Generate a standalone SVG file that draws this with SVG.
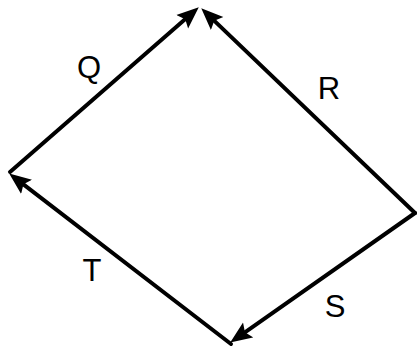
<svg xmlns="http://www.w3.org/2000/svg" width="417" height="349" viewBox="0 0 417 349">
<style>
.edge{stroke:#000;stroke-width:4;fill:none;stroke-linecap:round;marker-end:url(#ah)}
.lbl{font-family:"Liberation Sans",Arial,sans-serif;font-size:31px;fill:#000;text-anchor:middle}
</style>
<defs>
<marker id="ah" markerUnits="userSpaceOnUse" markerWidth="24" markerHeight="20" refX="11" refY="10" orient="auto">
<path d="M0,1 L22,10 L0,19 L4,10 z" fill="#000"/>
</marker>
</defs>
<g id="connectors">
<line id="Q" class="edge" x1="10" y1="172" x2="190.5" y2="14.6"/>
<line id="R" class="edge" x1="415" y1="213" x2="209.2" y2="15.9"/>
<line id="S" class="edge" x1="415" y1="213" x2="239.2" y2="336.3"/>
<line id="T" class="edge" x1="231" y1="344" x2="17.9" y2="180.1"/>
</g>
<g id="label-Q"><text class="lbl" x="89" y="78">Q</text></g>
<g id="label-R"><text class="lbl" x="329" y="99">R</text></g>
<g id="label-T"><text class="lbl" x="92" y="281">T</text></g>
<g id="label-S"><text class="lbl" x="335" y="317">S</text></g>
</svg>
